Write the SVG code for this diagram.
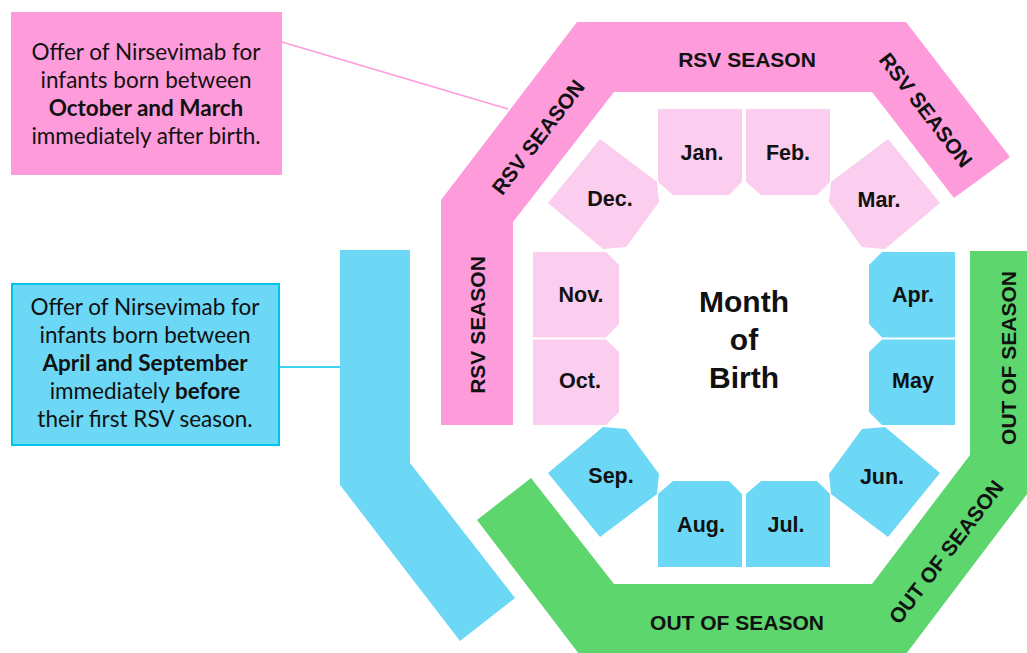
<svg xmlns="http://www.w3.org/2000/svg" width="1027" height="653" viewBox="0 0 1027 653">
<style>
.pinkband{fill:#FE9BDB}
.blueband{fill:#6DD7F6}
.greenband{fill:#5CD66D}
.lpink{fill:#FBCDEE}
.lblue{fill:#6DD7F6}
.band{font-family:"Liberation Sans",Arial,sans-serif;font-weight:bold;font-size:21px;fill:#111;text-anchor:middle}
.mon{font-family:"Liberation Sans",Arial,sans-serif;font-weight:bold;font-size:21.5px;fill:#111;text-anchor:middle}
.ctr{font-family:"Liberation Sans",Arial,sans-serif;font-weight:bold;font-size:30px;fill:#111;text-anchor:middle}
.call{font-family:Lato,"Noto Sans",sans-serif;font-size:22.5px;fill:#111;text-anchor:middle}
.b{font-weight:bold}
</style>
<rect width="1027" height="653" fill="#ffffff"/>
<g id="connectors">
<line x1="282" y1="42" x2="508" y2="109" stroke="#FE9BDB" stroke-width="1.6"/>
<line x1="279" y1="367" x2="341" y2="367" stroke="#00C3EE" stroke-width="1.6"/>
</g>
<g id="rsv-band">
<polygon class="pinkband" points="441,425 441,200 577,22 906,22 1010,157 954,198 872,92 614,92 513,222 513,425"/>
<text class="band" x="747" y="67">RSV SEASON</text>
<text class="band" transform="translate(538,137) rotate(-52.6)" y="7.5">RSV SEASON</text>
<text class="band" transform="translate(926,110) rotate(52.4)" y="7.5">RSV SEASON</text>
<text class="band" transform="translate(477,325) rotate(-90)" y="7.5">RSV SEASON</text>
</g>
<g id="before-band">
<polygon class="blueband" points="340,250 410,250 410,463 515,598 460,641 340,485"/>
</g>
<g id="out-band">
<polygon class="greenband" points="477,520 531,478 614,584 872,584 970,455 970,251 1040,251 1040,477 906,654 579,654"/>
<text class="band" x="737" y="630">OUT OF SEASON</text>
<text class="band" transform="translate(1008,358) rotate(-90)" y="7.5">OUT OF SEASON</text>
<text class="band" transform="translate(946,552) rotate(-52.6)" y="7.5">OUT OF SEASON</text>
</g>
<g id="jan"><polygon class="lpink" points="658,109 742,109 742,182 729,195 673,195 658,182"/><text class="mon" x="702" y="160">Jan.</text></g>
<g id="feb"><polygon class="lpink" points="746,109 830,109 830,182 817,195 761,195 746,182"/><text class="mon" x="788" y="160">Feb.</text></g>
<g id="dec"><polygon class="lpink" points="600,139 657,182 659,202 626,247 603,249 548,203"/><text class="mon" x="610" y="206">Dec.</text></g>
<g id="mar"><polygon class="lpink" points="888,139 831,182 829,202 862,247 885,249 940,203"/><text class="mon" x="879" y="207">Mar.</text></g>
<g id="nov"><polygon class="lpink" points="533,252 606,252 619,265 619,324 606,337.5 533,337.5"/><text class="mon" x="581" y="302">Nov.</text></g>
<g id="oct"><polygon class="lpink" points="533,339.5 606,339.5 619,352 619,412 606,425 533,425"/><text class="mon" x="580" y="388">Oct.</text></g>
<g id="apr"><polygon class="lblue" points="955,252 882,252 869,265 869,324 882,337.5 955,337.5"/><text class="mon" x="913" y="302">Apr.</text></g>
<g id="may"><polygon class="lblue" points="955,339.5 882,339.5 869,352 869,412 882,425 955,425"/><text class="mon" x="913" y="388">May</text></g>
<g id="sep"><polygon class="lblue" points="600,537 657,494 659,474 626,429 603,427 548,473"/><text class="mon" x="611" y="483">Sep.</text></g>
<g id="jun"><polygon class="lblue" points="888,537 831,494 829,474 862,429 885,427 940,473"/><text class="mon" x="882" y="484">Jun.</text></g>
<g id="aug"><polygon class="lblue" points="658,567 742,567 742,494 729,481 673,481 658,494"/><text class="mon" x="701" y="532">Aug.</text></g>
<g id="jul"><polygon class="lblue" points="746,567 830,567 830,494 817,481 761,481 746,494"/><text class="mon" x="786" y="532">Jul.</text></g>
<g id="center">
<text class="ctr" x="744" y="312">Month</text>
<text class="ctr" x="744" y="350">of</text>
<text class="ctr" x="744" y="388">Birth</text>
</g>
<g id="callout-rsv">
<rect x="11" y="12" width="271" height="163" fill="#FE9BDB"/>
<text class="call" x="146" y="60">Offer of Nirsevimab for</text>
<text class="call" x="146" y="88">infants born between</text>
<text class="call b" x="146" y="116">October and March</text>
<text class="call" x="146" y="144">immediately after birth.</text>
</g>
<g id="callout-before">
<rect x="12" y="284" width="267" height="161" fill="#6DD7F6" stroke="#00C3EE" stroke-width="2"/>
<text class="call" x="145" y="315">Offer of Nirsevimab for</text>
<text class="call" x="145" y="343">infants born between</text>
<text class="call b" x="145" y="371">April and September</text>
<text class="call" x="145" y="399">immediately <tspan class="b">before</tspan></text>
<text class="call" x="145" y="427">their first RSV season.</text>
</g>
</svg>
